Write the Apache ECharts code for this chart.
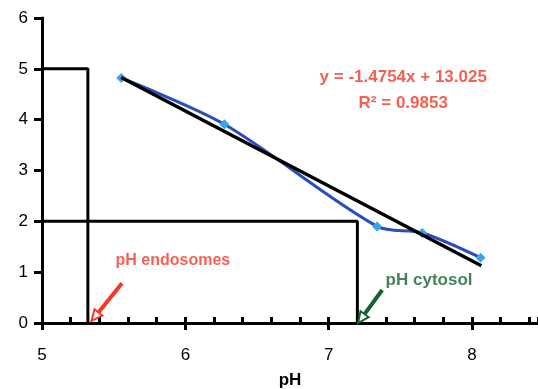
<!DOCTYPE html>
<html><head><meta charset="utf-8">
<script src="https://cdn.jsdelivr.net/npm/echarts@6/dist/echarts.min.js"></script>
<style>html,body{margin:0;padding:0;background:#fff}#c{width:538px;height:389px}</style>
</head><body><div id="c"></div>
<script>
// data
var phValues = [5.553, 6.272, 7.338, 7.652, 8.059];
var ratioValues = [4.82, 3.91, 1.90, 1.77, 1.285];
var trendX = [5.553, 8.065];
var trendY = [4.83, 1.125];
var endosomePH = 5.32, endosomeRatio = 5;
var cytosolPH = 7.2, cytosolRatio = 2;
var xTicks = [5, 6, 7, 8];
var yTicks = [0, 1, 2, 3, 4, 5, 6];
var equationText = 'y = -1.4754x + 13.025';
var r2Text = 'R² = 0.9853';
var endoLabel = 'pH endosomes';
var cytoLabel = 'pH cytosol';
// annotation anchors (data coords)
var eqPos = [7.52, 4.84], r2Pos = [7.52, 4.33];
var endoTextPos = [5.913, 1.22], cytoTextPos = [7.70, 0.84];
var endoArrow = [[5.558, 0.78], [5.345, 0.04]];
var cytoArrow = [[7.373, 0.65], [7.205, 0.0]];

var RED = '#f23a26', GREEN = '#156331';
var font = '"Liberation Sans", Arial, sans-serif';

var curve = phValues.map(function (x, i) { return [x, ratioValues[i]]; });
var trend = trendX.map(function (x, i) { return [x, trendY[i]]; });

function arrowRender(color) {
  return function (params, api) {
    var p0 = api.coord([api.value(0), api.value(1)]);
    var p1 = api.coord([api.value(2), api.value(3)]);
    var dx = p1[0] - p0[0], dy = p1[1] - p0[1];
    var len = Math.sqrt(dx * dx + dy * dy), ux = dx / len, uy = dy / len;
    var hl = 11, hw = 5;
    var bx = p1[0] - ux * hl, by = p1[1] - uy * hl;
    return {
      type: 'group', children: [
        { type: 'line', shape: { x1: p0[0], y1: p0[1], x2: bx, y2: by }, style: { stroke: color, lineWidth: 4 } },
        { type: 'polygon', shape: { points: [[p1[0], p1[1]], [bx - uy * hw, by + ux * hw], [bx + uy * hw, by - ux * hw]] },
          style: { fill: '#fff', stroke: color, lineWidth: 2 } }
      ]
    };
  };
}

function textSeries(pos, text, color, size) {
  return {
    type: 'scatter', data: [pos], symbolSize: 0, silent: true, z: 10,
    label: { show: true, position: 'inside', formatter: text, color: color,
      fontFamily: font, fontWeight: 'bold', fontSize: size }
  };
}

var chart = echarts.init(document.getElementById('c'), null, { renderer: 'canvas' });
chart.setOption({
  animation: false,
  backgroundColor: '#fff',
  grid: { left: 42, right: 0, top: 18, bottom: 66, containLabel: false, outerBoundsMode: 'none' },
  xAxis: [
    { type: 'value', min: 5, max: 8.46, interval: 1,
      name: 'pH', nameLocation: 'middle', nameGap: 49,
      nameTextStyle: { fontFamily: font, fontWeight: 'bold', fontSize: 17, color: '#000' },
      axisLine: { lineStyle: { color: '#000', width: 3 } },
      axisTick: { show: true, inside: false, length: 7, lineStyle: { color: '#000', width: 3 } },
      axisLabel: { margin: 24, fontFamily: font, fontSize: 17, color: '#000', showMaxLabel: false,
        formatter: function (v) { return xTicks.indexOf(v) >= 0 ? String(v) : ''; } },
      splitLine: { show: false } },
    { type: 'value', min: 5, max: 8.46, interval: 0.2, position: 'bottom',
      axisLine: { show: false },
      axisTick: { show: true, inside: true, length: 6, lineStyle: { color: '#000', width: 3 } },
      axisLabel: { show: false }, splitLine: { show: false } }
  ],
  yAxis: [
    { type: 'value', min: 0, max: 6, interval: 1,
      axisLine: { show: true, lineStyle: { color: '#000', width: 3 } },
      axisTick: { show: true, inside: false, length: 8, lineStyle: { color: '#000', width: 3 } },
      axisLabel: { margin: 14, fontFamily: font, fontSize: 17, color: '#000',
        formatter: function (v) { return yTicks.indexOf(v) >= 0 ? String(v) : ''; } },
      splitLine: { show: false } },
    { type: 'value', min: 0, max: 6, interval: 1, position: 'left',
      axisLine: { show: false },
      axisTick: { show: true, inside: true, length: 2, lineStyle: { color: '#000', width: 3 } },
      axisLabel: { show: false }, splitLine: { show: false } }
  ],
  series: [
    { type: 'line', data: [[5, endosomeRatio], [endosomePH, endosomeRatio], [endosomePH, 0]],
      symbol: 'none', lineStyle: { color: '#000', width: 3 }, z: 3 },
    { type: 'line', data: [[5, cytosolRatio], [cytosolPH, cytosolRatio], [cytosolPH, 0]],
      symbol: 'none', lineStyle: { color: '#000', width: 3 }, z: 3 },
    { type: 'line', data: curve, smooth: 0.3, symbol: 'diamond', symbolSize: 10,
      itemStyle: { color: '#3ba3e6' }, lineStyle: { color: '#2b4dbb', width: 3 }, z: 4 },
    { type: 'line', data: trend, symbol: 'none', lineStyle: { color: '#000', width: 3.5 }, z: 5 },
    { type: 'custom', renderItem: arrowRender(RED), data: [[endoArrow[0][0], endoArrow[0][1], endoArrow[1][0], endoArrow[1][1]]], z: 6 },
    { type: 'custom', renderItem: arrowRender(GREEN), data: [[cytoArrow[0][0], cytoArrow[0][1], cytoArrow[1][0], cytoArrow[1][1]]], z: 6 },
    textSeries(eqPos, equationText, RED, 17),
    textSeries(r2Pos, r2Text, RED, 17),
    textSeries(endoTextPos, endoLabel, RED, 16),
    textSeries(cytoTextPos, cytoLabel, GREEN, 17)
  ]
});
</script></body></html>
